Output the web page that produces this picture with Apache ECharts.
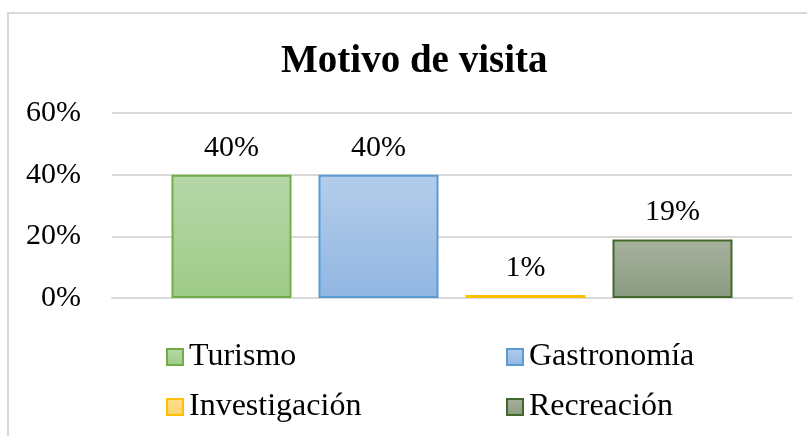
<!DOCTYPE html>
<html>
<head>
<meta charset="utf-8">
<script src="https://cdn.jsdelivr.net/npm/echarts@6/dist/echarts.min.js"></script>
<style>
  html, body { margin: 0; padding: 0; background: #fff; }
  #chart { width: 807px; height: 436px; }
</style>
</head>
<body>
<div id="chart"></div>
<script>
// datos del grafico
const categories = ['Turismo', 'Gastronomía', 'Investigación', 'Recreación'];
const values = [40, 40, 1, 19];
const yTicks = [0, 20, 40, 60];

// colores: [arriba, abajo, borde]
const colors = [
  ['#b7d7a8', '#9ecb88', '#70ad47'],
  ['#b4cdea', '#91b6e2', '#5b9bd5'],
  ['#ffdd90', '#ffd36e', '#ffc000'],
  ['#a7b19e', '#8a9b7f', '#43682b']
];

const font = 'Liberation Serif, Times New Roman, serif';
const myChart = echarts.init(document.getElementById('chart'));

let series = categories.map((name, i) => ({
  name: name,
  type: 'bar',
  barWidth: 120,
  barGap: '22.5%',
  data: [values[i]],
  itemStyle: {
    borderColor: colors[i][2],
    borderWidth: 2,
    color: new echarts.graphic.LinearGradient(0, 0, 0, 1, [
      { offset: 0, color: colors[i][0] },
      { offset: 1, color: colors[i][1] }
    ])
  },
  label: {
    show: true,
    position: 'top',
    distance: 12,
    formatter: '{c}%',
    fontFamily: font,
    fontSize: 30,
    color: '#000'
  }
}));

// leyenda en dos columnas
const legendPos = [[161, 336], [501, 336], [161, 386], [501, 386]];
let legends = categories.map((name, i) => ({
  data: [name],
  left: legendPos[i][0],
  top: legendPos[i][1],
  itemWidth: 16,
  itemHeight: 16,
  itemGap: 0,
  icon: 'rect',
  itemStyle: { borderWidth: 2 },
  textStyle: { fontFamily: font, fontSize: 32, color: '#000', padding: [0, 0, 0, 1] },
  selectedMode: false
}));

let option = {
  backgroundColor: '#ffffff',
  animation: false,
  title: {
    text: 'Motivo de visita',
    left: 276,
    top: 37,
    textStyle: { fontFamily: font, fontSize: 39, fontWeight: 'bold', color: '#000' }
  },
  graphic: [{
    type: 'rect',
    shape: { x: 8, y: 13, width: 900, height: 500 },
    style: { fill: 'none', stroke: '#d9d9d9', lineWidth: 2 },
    silent: true
  }],
  legend: legends,
  grid: { left: 112, right: 15, top: 113, bottom: 138 },
  xAxis: {
    type: 'category',
    data: [''],
    axisLine: { lineStyle: { color: '#d9d9d9', width: 2 } },
    axisTick: { show: false },
    axisLabel: { show: false }
  },
  yAxis: {
    type: 'value',
    min: yTicks[0],
    max: yTicks[yTicks.length - 1],
    interval: 20,
    axisLine: { show: false },
    axisTick: { show: false },
    splitLine: { lineStyle: { color: '#d9d9d9', width: 2 } },
    axisLabel: {
      formatter: '{value}%',
      margin: 31,
      fontFamily: font,
      fontSize: 30,
      color: '#000'
    }
  },
  series: series
};
myChart.setOption(option);
</script>
</body>
</html>
